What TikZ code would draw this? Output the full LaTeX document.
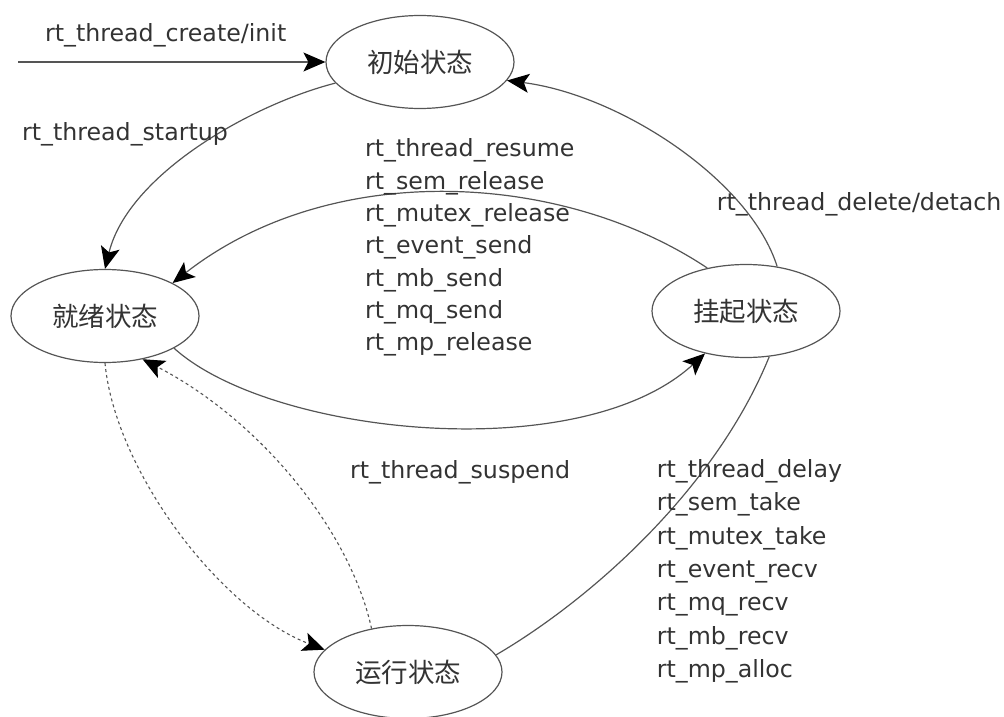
\documentclass[tikz,border=0pt]{standalone}
\usepackage{fontspec}
\setmainfont{DejaVu Sans}
\newfontfamily\cjkfont{Noto Sans CJK SC}
\usetikzlibrary{shapes.geometric,arrows.meta}
\definecolor{linegray}{HTML}{555555}
\definecolor{txtgray}{HTML}{333333}
\begin{document}
\begin{tikzpicture}[x=1pt,y=-1pt,
  state/.style={ellipse, draw=linegray, line width=1.2pt, minimum width=188pt, minimum height=93pt,
    inner sep=0pt, text=txtgray, font=\cjkfont\fontsize{26.5}{30}\selectfont},
  lbl/.style={inner sep=0pt, text=txtgray, font=\fontsize{23.7}{32.3}\selectfont, align=left},
  lblr/.style={lbl, font=\fontsize{23.7}{33.3}\selectfont},
  tip/.style={-{Stealth[length=22pt,width=19pt,inset=5pt,color=black]}},
  conn/.style={draw=linegray, line width=1.2pt, tip},
  plain/.style={draw=linegray, line width=1.2pt},
  dconn/.style={draw=linegray, line width=1.1pt, dash pattern=on 3pt off 3pt, tip}
]
\useasboundingbox (0,0) rectangle (1004,717);

% states
\node[state] (init)  at (420,62)  {初始状态};
\node[state] (ready) at (105,316) {就绪状态};
\node[state] (susp)  at (746,311) {挂起状态};
\node[state] (run)   at (408,672) {运行状态};

% entry
\coordinate (entry) at (18,62);
\draw[conn] (entry) -- (init.west);

% transitions
\draw[conn] (init.194) .. controls (250,105) and (128,175) .. (ready.90);
\draw[conn] (susp.55) .. controls (750,180) and (620,95) .. (init.348);
\draw[conn] (susp.132) .. controls (560,170) and (330,160) .. (ready.26);
\draw[conn] (ready.335) .. controls (270,435) and (580,468) .. (susp.226);
\draw[dconn] (ready.270) .. controls (115,470) and (220,610) .. (run.165);
\draw[dconn] (run.130) .. controls (350,530) and (260,420) .. (ready.311);
\draw[plain] (run.11) .. controls (590,600) and (715,490) .. (susp.297);

% labels
\node[lbl, anchor=base west] (lcreate) at (45,42) {rt\_thread\_create/init};
\node[lbl, anchor=base west] (lstartup) at (22,140.6) {rt\_thread\_startup};
\node[lbl, anchor=base west] (ldelete) at (716.7,210) {rt\_thread\_delete/detach};
\node[lbl, anchor=base west] (lsuspend) at (350,478.3) {rt\_thread\_suspend};
\node[lbl, anchor=north west] (lresume) at (365,138.7) {rt\_thread\_resume\\rt\_sem\_release\\rt\_mutex\_release\\rt\_event\_send\\rt\_mb\_send\\rt\_mq\_send\\rt\_mp\_release};
\node[lblr, anchor=north west] (ldelay) at (656.7,459.3) {rt\_thread\_delay\\rt\_sem\_take\\rt\_mutex\_take\\rt\_event\_recv\\rt\_mq\_recv\\rt\_mb\_recv\\rt\_mp\_alloc};
\end{tikzpicture}
\end{document}
